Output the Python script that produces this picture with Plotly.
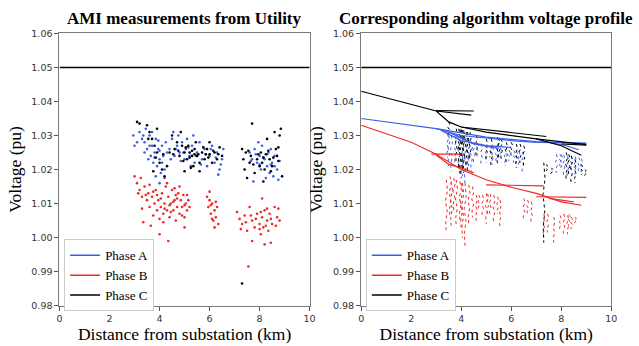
import plotly.graph_objects as go

# ---------------- data ----------------
x_ticks = [0, 2, 4, 6, 8, 10]
y_ticks = [0.98, 0.99, 1.00, 1.01, 1.02, 1.03, 1.04, 1.05, 1.06]
limit_x = [0, 10]
limit_v = [1.05, 1.05]

# Left: AMI measurements (km, pu)
ami_a_x = [2.95,3.0,3.2,3.3,3.4,3.45,3.5,3.6,3.65,3.7,3.75,3.8,3.85,3.9,3.95,4.0,4.05,4.1,4.15,4.2,3.55,3.85,4.0,3.4,3.7,4.25,
           4.4,4.5,4.6,4.7,4.75,4.8,4.9,5.0,5.05,5.1,5.2,5.3,5.4,5.5,5.6,5.7,5.8,5.9,6.0,6.1,6.2,6.3,6.4,6.5,6.55,4.55,5.35,6.35,5.25,
           7.6,7.7,7.8,7.9,8.0,8.05,8.1,8.2,8.3,8.35,8.4,8.5,8.55,8.6,8.7,8.75,7.75,8.25,7.95,8.45,
           3.1,3.35,3.6,3.8,4.0,4.1,4.3,4.45,4.65,4.85,4.95,5.15,5.45,5.65,5.85,6.05,6.25,6.45,7.65,7.85,8.0,8.15,8.3,8.45,8.6,8.8,3.95,4.2]
ami_a_v = [1.030,1.027,1.031,1.029,1.028,1.032,1.026,1.030,1.024,1.027,1.022,1.025,1.029,1.021,1.026,1.023,1.019,1.027,1.024,1.020,1.023,1.018,1.016,1.025,1.031,1.028,
           1.026,1.029,1.024,1.027,1.030,1.025,1.028,1.023,1.026,1.029,1.024,1.027,1.022,1.025,1.028,1.023,1.026,1.021,1.024,1.027,1.022,1.025,1.020,1.023,1.026,1.031,1.030,1.0185,1.021,
           1.025,1.023,1.026,1.022,1.024,1.020,1.027,1.023,1.021,1.025,1.019,1.022,1.018,1.024,1.020,1.017,1.0165,1.0175,1.028,1.026,
           1.028,1.030,1.027,1.0235,1.0255,1.022,1.025,1.023,1.026,1.0225,1.025,1.0265,1.024,1.0215,1.0245,1.026,1.0235,1.0215,1.0225,1.0245,1.0215,1.0235,1.0245,1.0215,1.021,1.0225,1.0285,1.0175]

ami_b_x = [3.0,3.1,3.2,3.25,3.3,3.4,3.5,3.55,3.6,3.7,3.75,3.8,3.85,3.9,3.95,4.0,4.05,4.1,4.15,4.2,4.25,4.3,4.35,4.4,4.45,4.5,4.55,4.6,4.65,4.7,4.75,4.8,4.85,4.9,4.95,5.0,5.05,5.1,5.15,4.3,4.6,3.65,4.0,5.0,4.35,3.5,3.35,4.8,5.2,
           5.9,5.95,6.0,6.05,6.1,6.15,6.2,6.25,6.3,6.35,6.0,6.2,
           7.1,7.2,7.3,7.4,7.5,7.6,7.7,7.8,7.9,8.0,8.05,8.1,8.15,8.2,8.3,8.35,8.4,8.5,8.6,8.7,8.8,8.2,8.1,7.55,7.7,8.45,8.75,
           3.15,3.45,3.6,3.9,4.05,4.2,4.4,4.55,4.7,4.9,5.1,3.3,3.75,4.15,4.45,4.65,5.0,6.05,6.25,6.1,7.25,7.45,7.65,7.85,8.05,8.25,8.45,8.65,8.0,8.3]
ami_b_v = [1.018,1.016,1.014,1.0175,1.012,1.015,1.011,1.013,1.009,1.012,1.0065,1.010,1.014,1.008,1.011,1.0055,1.009,1.013,1.007,1.010,1.015,1.008,1.012,1.006,1.010,1.014,1.008,1.011,1.005,1.009,1.013,1.007,1.011,1.009,1.0125,1.006,1.010,1.008,1.011,1.016,1.0145,1.0035,1.001,1.003,0.999,0.9965,1.0045,1.015,1.009,
           1.012,1.009,1.011,1.007,1.010,1.005,1.008,1.006,1.009,1.004,1.0135,1.003,
           1.0075,1.0055,1.004,1.0065,1.002,1.009,1.005,1.003,1.007,1.004,1.001,1.006,1.003,1.008,1.005,1.002,1.007,1.004,1.009,1.006,1.005,0.998,1.0115,0.9915,0.999,0.9985,1.0085,
           1.013,1.0125,1.0155,1.0125,1.0115,1.0085,1.0095,1.0105,1.0115,1.0065,1.0125,1.0085,1.0135,1.0045,1.0075,1.0125,1.0095,1.0095,1.0105,1.0055,1.0025,1.0045,1.0065,1.0055,1.0075,1.0035,1.0055,1.0035,1.0025,1.0085]

ami_c_x = [3.1,3.2,3.5,3.6,3.7,3.8,3.9,4.0,4.1,3.55,3.9,4.2,4.3,3.75,
           4.6,4.7,4.8,4.9,5.0,5.1,5.15,5.2,5.3,5.35,5.4,5.5,5.6,5.7,5.8,5.9,6.0,6.1,6.2,6.3,6.4,6.5,4.5,5.0,5.6,6.0,4.95,5.25,5.45,4.4,4.85,
           7.3,7.35,7.4,7.45,7.5,7.6,7.65,7.7,7.8,7.9,8.0,8.05,8.1,8.2,8.25,8.3,8.4,8.5,8.6,8.65,8.7,8.75,8.8,8.85,8.9,8.15,7.3,
           4.55,4.75,5.05,5.3,5.55,5.75,5.95,6.15,6.35,5.2,5.4,5.85,7.55,7.75,7.95,8.15,8.35,8.55,8.75,8.45,3.85,4.15]
ami_c_v = [1.034,1.0335,1.033,1.031,1.029,1.027,1.025,1.022,1.020,1.029,1.032,1.018,1.021,1.0195,
           1.026,1.028,1.024,1.027,1.025,1.023,1.027,1.025,1.024,1.021,1.026,1.024,1.022,1.025,1.023,1.026,1.0245,1.022,1.025,1.023,1.0265,1.024,1.030,1.0195,1.0195,1.028,1.0225,1.0205,1.028,1.025,1.031,
           1.026,1.023,1.020,1.025,1.0175,1.022,1.024,1.0335,1.019,1.023,1.021,1.025,1.022,1.020,1.0245,1.029,1.023,1.021,1.031,1.026,1.024,1.0225,1.030,1.032,1.018,1.0165,0.9865,
           1.0245,1.0255,1.0265,1.0255,1.0245,1.0265,1.0235,1.0255,1.0245,1.0235,1.0245,1.0245,1.0255,1.0215,1.0245,1.0235,1.0255,1.0235,1.0265,1.0195,1.0235,1.0245]

# Right: primary feeder profile branches (km, pu)
prim_a = [([0,1,2,3,4,5,6,7,8,9],[1.035,1.034,1.033,1.032,1.030,1.0292,1.0285,1.028,1.0278,1.0278]),
          ([3,5,7,9],[1.032,1.0295,1.0282,1.0276]),
          ([3.2,4,5,6],[1.0315,1.0285,1.027,1.0265]),
          ([3.5,4.5,5.5],[1.031,1.0275,1.0262]),
          ([7.5,8.2,8.7],[1.028,1.027,1.0258])]
prim_b = [([0,1,2,3,4,5,6,7,8,8.8],[1.033,1.0305,1.028,1.0245,1.020,1.017,1.0148,1.013,1.0105,1.0095]),
          ([2.8,4.0],[1.0245,1.0245]),
          ([3,3.5,4,4.5],[1.0243,1.0215,1.0205,1.019]),
          ([5,7.3],[1.0155,1.0152]),
          ([7,9],[1.012,1.0118]),
          ([7.5,8.5],[1.0115,1.0105])]
prim_c = [([0,1,2,3,3.5,4,5,6,7,8,8.8],[1.043,1.041,1.039,1.0372,1.034,1.0325,1.031,1.030,1.029,1.027,1.0242]),
          ([3,4.5],[1.0373,1.0372]),
          ([3,4.4],[1.0372,1.036]),
          ([4,7.4],[1.0325,1.0297]),
          ([7,9],[1.029,1.0273]),
          ([8,9],[1.0275,1.0272])]

# Right: secondary drops (km, top pu, bottom pu)
sec_a = [(3.5,1.030,1.021),(3.6,1.030,1.0195),(3.75,1.0298,1.022),(3.9,1.0295,1.0205),(4.05,1.029,1.018),(4.15,1.029,1.016),
         (4.3,1.0285,1.021),(4.5,1.028,1.022),(4.65,1.0278,1.0235),(4.8,1.0276,1.021),(5.0,1.027,1.022),(5.15,1.0268,1.0235),
         (5.4,1.0265,1.022),(5.55,1.0263,1.024),(5.75,1.026,1.021),(5.9,1.0258,1.0225),(6.1,1.0256,1.022),(6.3,1.0254,1.0205),
         (6.45,1.0252,1.019),(7.8,1.0245,1.019),(7.95,1.0245,1.021),(8.1,1.0243,1.018),(8.25,1.024,1.0175),(8.4,1.024,1.020),
         (8.55,1.0238,1.0185),(8.7,1.0235,1.019),(3.45,1.0305,1.0235),(4.4,1.0283,1.0195),(5.25,1.0266,1.0215),(6.2,1.0255,1.0215),
         (8.0,1.0244,1.0195),(8.8,1.0232,1.0185)]
sec_b = [(3.4,1.017,1.0015),(3.55,1.018,1.006),(3.7,1.0175,1.008),(3.8,1.017,1.003),(3.95,1.0165,1.005),(4.05,1.016,1.000),
         (4.15,1.016,0.9975),(4.3,1.0155,1.004),(4.45,1.015,1.006),(4.7,1.0125,1.008),(4.85,1.0125,1.006),(5.0,1.013,1.004),
         (5.15,1.0128,1.0065),(5.3,1.0125,1.004),(5.45,1.012,1.007),(5.55,1.011,1.003),(6.5,1.0115,1.005),(6.65,1.011,1.007),
         (6.8,1.0105,1.004),(7.3,1.007,1.000),(7.45,1.007,1.0015),(7.7,1.006,0.9985),(7.95,1.0065,1.002),(8.1,1.007,1.0005),
         (8.25,1.0065,1.001),(8.4,1.006,1.0025),(8.55,1.006,1.004),(3.6,1.0165,1.003),(4.0,1.016,1.002),(4.6,1.0125,1.005),
         (5.05,1.0128,1.007),(8.3,1.0068,1.0035)]
sec_c = [(3.5,1.034,1.030),(3.8,1.032,1.022),(3.9,1.032,1.020),(4.0,1.0318,1.0175),(4.1,1.0315,1.019),(4.2,1.031,1.021),
         (4.35,1.031,1.0225),(4.6,1.030,1.024),(5.0,1.029,1.0225),(5.2,1.029,1.0205),(5.45,1.0295,1.0215),(5.6,1.029,1.023),
         (5.8,1.028,1.022),(6.0,1.028,1.024),(6.2,1.0275,1.0205),(6.35,1.0275,1.022),(6.5,1.027,1.021),(7.3,1.022,0.9985),
         (7.4,1.0215,1.019),(7.6,1.0205,1.0185),(8.2,1.025,1.017),(8.4,1.024,1.0155),(8.55,1.023,1.016),(8.8,1.0215,1.0185),
         (8.95,1.020,1.018),(3.95,1.0318,1.0185),(4.05,1.0316,1.0205),(4.25,1.031,1.0195),(5.5,1.0293,1.0235),(8.3,1.0245,1.0185)]

phases = ["Phase A", "Phase B", "Phase C"]
colors = ["#3b5ee8", "#ee2a2a", "#000000"]

# ---------------- figure ----------------
fig = go.Figure()
serif = "Liberation Serif"

def join(branches):
    xs, ys = [], []
    for bx, by in branches:
        xs += list(bx) + [None]
        ys += list(by) + [None]
    return xs, ys

zig = [0.0, 0.05, -0.03, 0.04, -0.02, 0.0]
def drops(items):
    xs, ys = [], []
    n = len(zig) - 1
    for x, t, b in items:
        for i, dx in enumerate(zig):
            xs.append(x + dx)
            ys.append(t - (t - b) * i / n)
        xs.append(None)
        ys.append(None)
    return xs, ys

# left scatter
for (xx, vv), c in zip([(ami_a_x, ami_a_v), (ami_b_x, ami_b_v), (ami_c_x, ami_c_v)], colors):
    fig.add_trace(go.Scatter(x=xx, y=vv, mode="markers", marker=dict(color=c, size=2.6),
                             showlegend=False, xaxis="x", yaxis="y"))
fig.add_trace(go.Scatter(x=limit_x, y=limit_v, mode="lines", line=dict(color="black", width=1.5),
                         showlegend=False, xaxis="x", yaxis="y"))

# right secondaries (dotted)
for sec, c in zip([sec_a, sec_b, sec_c], colors):
    sx, sy = drops(sec)
    fig.add_trace(go.Scatter(x=sx, y=sy, mode="lines", line=dict(color=c, width=1, dash="dot"),
                             showlegend=False, xaxis="x2", yaxis="y2"))
# right primaries
for prim, c in zip([prim_a, prim_b, prim_c], colors):
    px_, py_ = join(prim)
    fig.add_trace(go.Scatter(x=px_, y=py_, mode="lines", line=dict(color=c, width=1.2),
                             showlegend=False, xaxis="x2", yaxis="y2"))
fig.add_trace(go.Scatter(x=limit_x, y=limit_v, mode="lines", line=dict(color="black", width=1.5),
                         showlegend=False, xaxis="x2", yaxis="y2"))

# legend entries
for name, c in zip(phases, colors):
    fig.add_trace(go.Scatter(x=[None], y=[None], mode="lines", name=name, line=dict(color=c, width=1.5),
                             legend="legend", xaxis="x", yaxis="y"))
    fig.add_trace(go.Scatter(x=[None], y=[None], mode="lines", name=name, line=dict(color=c, width=1.5),
                             legend="legend2", xaxis="x2", yaxis="y2"))

W, H = 639, 346
x1d = [57.3 / W, 311 / W]
x2d = [363.3 / W, 617 / W]
yd = [1 - 309.5 / H, 1 - 28.3 / H]

axis_common = dict(showline=True, linecolor="#7a7a7a", linewidth=1.2, mirror=True, ticks="outside",
                   ticklen=4, tickcolor="#555", showgrid=False, zeroline=False,
                   tickfont=dict(family="DejaVu Sans", size=9.5, color="#333"))
xa = dict(axis_common, range=[0, 10], tickvals=x_ticks, ticktext=[str(t) for t in x_ticks],
          title=dict(text="Distance from substation (km)", font=dict(family=serif, size=17.5, color="black"), standoff=3))
ya = dict(axis_common, range=[0.98, 1.06], tickvals=y_ticks, ticktext=["%.2f" % t for t in y_ticks],
          title=dict(text="Voltage (pu)", font=dict(family=serif, size=17.5, color="black"), standoff=5))

legend_style = dict(font=dict(family=serif, size=13, color="black"), bgcolor="white",
                    bordercolor="#cccccc", borderwidth=1, yanchor="top", xanchor="left",
                    tracegroupgap=0, itemwidth=30)

fig.update_layout(
    width=W, height=H, margin=dict(l=0, r=0, t=0, b=0),
    paper_bgcolor="white", plot_bgcolor="white",
    xaxis=dict(xa, domain=x1d, anchor="y"),
    yaxis=dict(ya, domain=yd, anchor="x"),
    xaxis2=dict(xa, domain=x2d, anchor="y2"),
    yaxis2=dict(ya, domain=yd, anchor="x2"),
    legend=dict(legend_style, x=62 / W, y=1 - 241 / H),
    legend2=dict(legend_style, x=368 / W, y=1 - 241 / H),
    annotations=[
        dict(text="<b>AMI measurements from Utility</b>", x=(x1d[0] + x1d[1]) / 2, y=1 - 13 / H,
             xanchor="center", yanchor="middle",
             xref="paper", yref="paper", showarrow=False, font=dict(family=serif, size=17, color="black")),
        dict(text="<b>Corresponding algorithm voltage profile</b>", x=(x2d[0] + x2d[1]) / 2, y=1 - 13 / H,
             xanchor="center", yanchor="middle",
             xref="paper", yref="paper", showarrow=False, font=dict(family=serif, size=17, color="black")),
    ],
)

fig.write_html("out.html")
